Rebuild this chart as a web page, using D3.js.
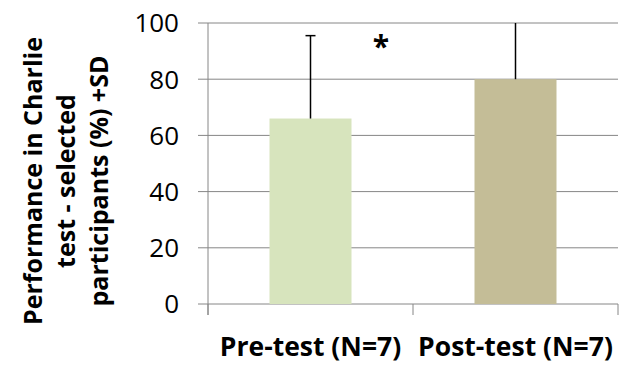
<!DOCTYPE html>
<html>
<head>
<meta charset="utf-8">
<script src="https://cdn.jsdelivr.net/npm/d3@7"></script>
<style>
  body { margin: 0; background: #fff; }
  text { font-family: "Open Sans", "Liberation Sans", sans-serif; }
</style>
</head>
<body>
<svg id="chart" width="622" height="365"></svg>
<script>
// values
var categories = ["Pre-test (N=7)", "Post-test (N=7)"];
var means = [66, 80];
var sds = [29.5, 25];
var yTicks = [0, 20, 40, 60, 80, 100];
var barColors = ["#d7e4bd", "#c4bd97"];
var yLabelLines = ["Performance in Charlie", "test - selected", "participants (%) +SD"];

var svg = d3.select("#chart"),
    margin = {top: 23, right: 4, bottom: 61, left: 208},
    width = +svg.attr("width") - margin.left - margin.right,
    height = +svg.attr("height") - margin.top - margin.bottom,
    g = svg.append("g").attr("transform", "translate(" + margin.left + "," + margin.top + ")");

var x = d3.scaleBand()
    .domain(categories)
    .range([0, width])
    .paddingInner(0.6)
    .paddingOuter(0.3);

var y = d3.scaleLinear()
    .domain([0, 100])
    .range([height, 0]);

// grid lines + left ticks
g.selectAll(".grid")
    .data(yTicks)
  .enter().append("line")
    .attr("x1", -10)
    .attr("x2", width)
    .attr("y1", function(d) { return y(d); })
    .attr("y2", function(d) { return y(d); })
    .attr("stroke", "#868686")
    .attr("stroke-width", 1);

// y axis line
g.append("line")
    .attr("x1", 0).attr("x2", 0)
    .attr("y1", 0).attr("y2", height + 11)
    .attr("stroke", "#868686");

// x category separators
var edges = [0, width / 2, width];
g.selectAll(".xtick")
    .data(edges)
  .enter().append("line")
    .attr("x1", function(d) { return d; })
    .attr("x2", function(d) { return d; })
    .attr("y1", height)
    .attr("y2", height + 11)
    .attr("stroke", "#868686");

// y tick labels
g.selectAll(".ylab")
    .data(yTicks)
  .enter().append("text")
    .attr("x", -29)
    .attr("y", function(d) { return y(d); })
    .attr("dy", "0.36em")
    .attr("text-anchor", "end")
    .attr("font-size", 26)
    .attr("fill", "#000")
    .text(function(d) { return d; });

var data = categories.map(function(c, i) { return {cat: c, mean: means[i], sd: sds[i], color: barColors[i]}; });

g.selectAll(".bar")
    .data(data)
  .enter().append("rect")
    .attr("x", function(d) { return x(d.cat); })
    .attr("width", x.bandwidth())
    .attr("y", function(d) { return y(d.mean); })
    .attr("height", function(d) { return height - y(d.mean); })
    .attr("fill", function(d) { return d.color; });

// error bars, clipped to plot area
svg.append("clipPath").attr("id", "plotclip")
  .append("rect").attr("x", 0).attr("y", 0).attr("width", width).attr("height", height);

var eb = g.append("g").attr("clip-path", "url(#plotclip)");
eb.selectAll(".err")
    .data(data)
  .enter().append("line")
    .attr("x1", function(d) { return x(d.cat) + x.bandwidth() / 2; })
    .attr("x2", function(d) { return x(d.cat) + x.bandwidth() / 2; })
    .attr("y1", function(d) { return y(d.mean); })
    .attr("y2", function(d) { return y(d.mean + d.sd); })
    .attr("stroke", "#000")
    .attr("stroke-width", 1.5);
eb.selectAll(".cap")
    .data(data)
  .enter().append("line")
    .attr("x1", function(d) { return x(d.cat) + x.bandwidth() / 2 - 5; })
    .attr("x2", function(d) { return x(d.cat) + x.bandwidth() / 2 + 5; })
    .attr("y1", function(d) { return y(d.mean + d.sd); })
    .attr("y2", function(d) { return y(d.mean + d.sd); })
    .attr("stroke", "#000")
    .attr("stroke-width", 1.5);

// significance asterisk
g.append("text")
    .attr("x", width / 2 - 32)
    .attr("y", y(88))
    .attr("text-anchor", "middle")
    .attr("font-size", 30)
    .attr("font-weight", "bold")
    .text("*");

// x category labels
g.selectAll(".xlab")
    .data(categories)
  .enter().append("text")
    .attr("x", function(d) { return x(d) + x.bandwidth() / 2; })
    .attr("y", height + 52)
    .attr("text-anchor", "middle")
    .attr("font-size", 26.5)
    .attr("font-weight", "bold")
    .text(function(d) { return d; });

// y axis title
var yt = svg.append("text")
    .attr("transform", "translate(0,181) rotate(-90)")
    .attr("text-anchor", "middle")
    .attr("font-size", 25)
    .attr("font-weight", "bold");
yt.selectAll("tspan")
    .data(yLabelLines)
  .enter().append("tspan")
    .attr("x", 0)
    .attr("y", function(d, i) { return 42 + i * 33; })
    .text(function(d) { return d; });
</script>
</body>
</html>
